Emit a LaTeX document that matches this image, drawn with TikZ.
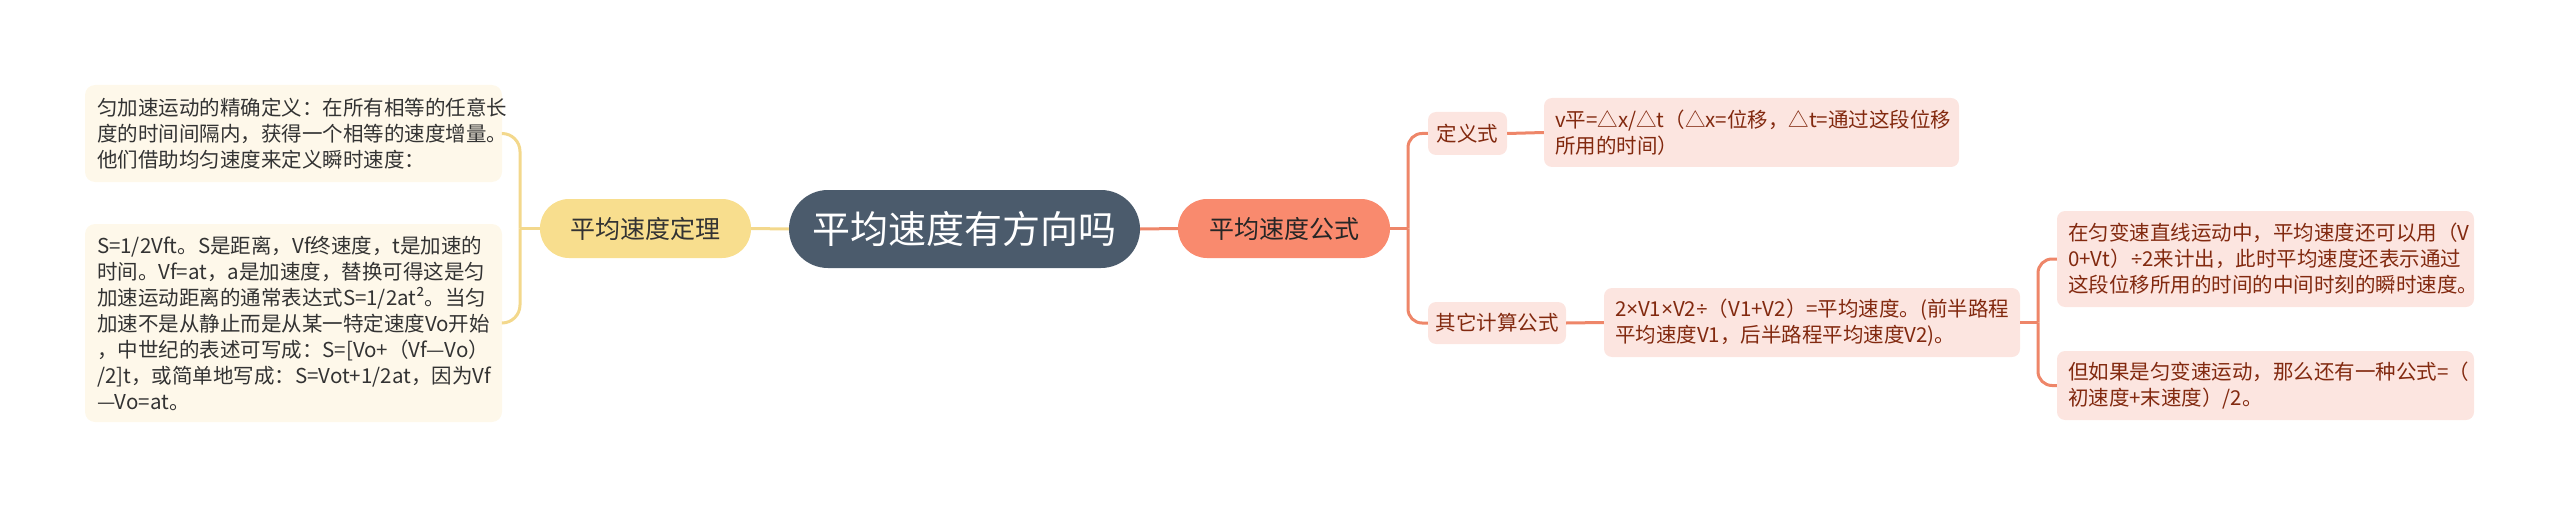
\documentclass[tikz,border=0pt]{standalone}
\usepackage{fontspec}
\setmainfont{Noto Sans CJK SC}
\newfontfamily\latfont{Noto Sans}
\newcommand{\mytimes}{{\latfont ×}}
\newcommand{\mydiv}{{\latfont ÷}}
\usetikzlibrary{positioning}
\definecolor{cdark}{HTML}{4B5B6C}
\definecolor{cyel}{HTML}{F8DE8E}
\definecolor{cyelline}{HTML}{F3D88C}
\definecolor{ccream}{HTML}{FEF8EA}
\definecolor{csal}{HTML}{F98A6E}
\definecolor{csalline}{HTML}{EE8669}
\definecolor{cpink}{HTML}{FCE5E0}
\definecolor{cpinktext}{HTML}{82290F}
\definecolor{ctext}{HTML}{333333}
\tikzset{
  rootbox/.style={fill=cdark, text=white, rounded corners=39pt, minimum width=351pt, minimum height=78pt, inner sep=0pt, font=\fontsize{38}{44}\selectfont},
  yelbox/.style={fill=cyel, text=ctext, rounded corners=29pt, minimum width=211pt, minimum height=59pt, inner sep=0pt, font=\fontsize{25}{30}\selectfont},
  salbox/.style={fill=csal, text=black!85, rounded corners=29pt, minimum width=212pt, minimum height=59pt, inner sep=0pt, font=\fontsize{25}{30}\selectfont},
  creambox/.style={fill=ccream, text=ctext, rounded corners=10pt, minimum width=417pt, inner xsep=12pt, inner ysep=0pt, text width=393pt, align=left, font=\fontsize{20.5}{26}\selectfont},
  pinksmall/.style={fill=cpink, text=cpinktext, rounded corners=8pt, inner sep=0pt, font=\fontsize{20.5}{26}\selectfont},
  pinkbox/.style={fill=cpink, text=cpinktext, rounded corners=8pt, inner xsep=11pt, inner ysep=0pt, align=left, font=\fontsize{20.5}{26}\selectfont},
  yconn/.style={draw=cyelline, line width=3pt},
  sconn/.style={draw=csalline, line width=3pt},
}
\begin{document}
\begin{tikzpicture}[x=1pt,y=-1pt]
\useasboundingbox (0,0) rectangle (2560,508);
% root
\node[rootbox] (root) at (964.5,229) {平均速度有方向吗};
% left
\node[yelbox] (yel) at (645.5,228.5) {平均速度定理};
\node[creambox, minimum height=97pt] (lb1) at (293.5,133.5) {匀加速运动的精确定义：在所有相等的任意长\\度的时间间隔内，获得一个相等的速度增量。\\他们借助均匀速度来定义瞬时速度：};
\node[creambox, minimum height=198pt] (lb2) at (293.5,323) {S=1/2Vft。S是距离，Vf终速度，t是加速的\\时间。Vf=at，a是加速度，替换可得这是匀\\加速运动距离的通常表达式S=1/2at²。当匀\\加速不是从静止而是从某一特定速度Vo开始\\，中世纪的表述可写成：S=[Vo+（Vf—Vo）\\/2]t，或简单地写成：S=Vot+1/2at，因为Vf\\—Vo=at。};
% right
\node[salbox] (sal) at (1284,228.5) {平均速度公式};
\node[pinksmall, minimum width=79pt, minimum height=43pt] (def) at (1467.5,133.5) {定义式};
\node[pinkbox, minimum width=415pt, minimum height=69pt, text width=393pt] (vp) at (1751.5,132.5) {v平=△x/△t（△x=位移，△t=通过这段位移\\所用的时间）};
\node[pinksmall, minimum width=138pt, minimum height=42pt] (qita) at (1497,323) {其它计算公式};
\node[pinkbox, minimum width=416pt, minimum height=69pt, text width=394pt] (v12) at (1812,322.5) {2\mytimes V1\mytimes V2\mydiv（V1+V2）=平均速度。(前半路程\\平均速度V1，后半路程平均速度V2)。};
\node[pinkbox, minimum width=417pt, minimum height=96pt, text width=395pt] (r1) at (2265.5,259) {在匀变速直线运动中，平均速度还可以用（V\\0+Vt）\mydiv 2来计出，此时平均速度还表示通过\\这段位移所用的时间的中间时刻的瞬时速度。};
\node[pinkbox, minimum width=417pt, minimum height=69pt, text width=395pt] (r2) at (2265.5,385.5) {但如果是匀变速运动，那么还有一种公式=（\\初速度+末速度）/2。};
% junction coordinates
\coordinate (jy) at (520,228.5);
\coordinate (js) at (1408,228.5);
\coordinate (jr) at (2038,322.5);
% connectors
\draw[sconn] (root.east) -- (sal.west);
\draw[yconn] (yel.east) -- (root.west);
\draw[yconn] (yel.west) -- (jy);
\draw[yconn, rounded corners=18pt] (jy) |- (lb1.east);
\draw[yconn, rounded corners=18pt] (jy) |- (lb2.east);
\draw[sconn] (sal.east) -- (js);
\draw[sconn, rounded corners=14pt] (js) |- (def.west);
\draw[sconn, rounded corners=14pt] (js) |- (qita.west);
\draw[sconn] (def.east) -- (vp.west);
\draw[sconn] (qita.east) -- (v12.west);
\draw[sconn] (v12.east) -- (jr);
\draw[sconn, rounded corners=14pt] (jr) |- (r1.west);
\draw[sconn, rounded corners=14pt] (jr) |- (r2.west);
\end{tikzpicture}
\end{document}
